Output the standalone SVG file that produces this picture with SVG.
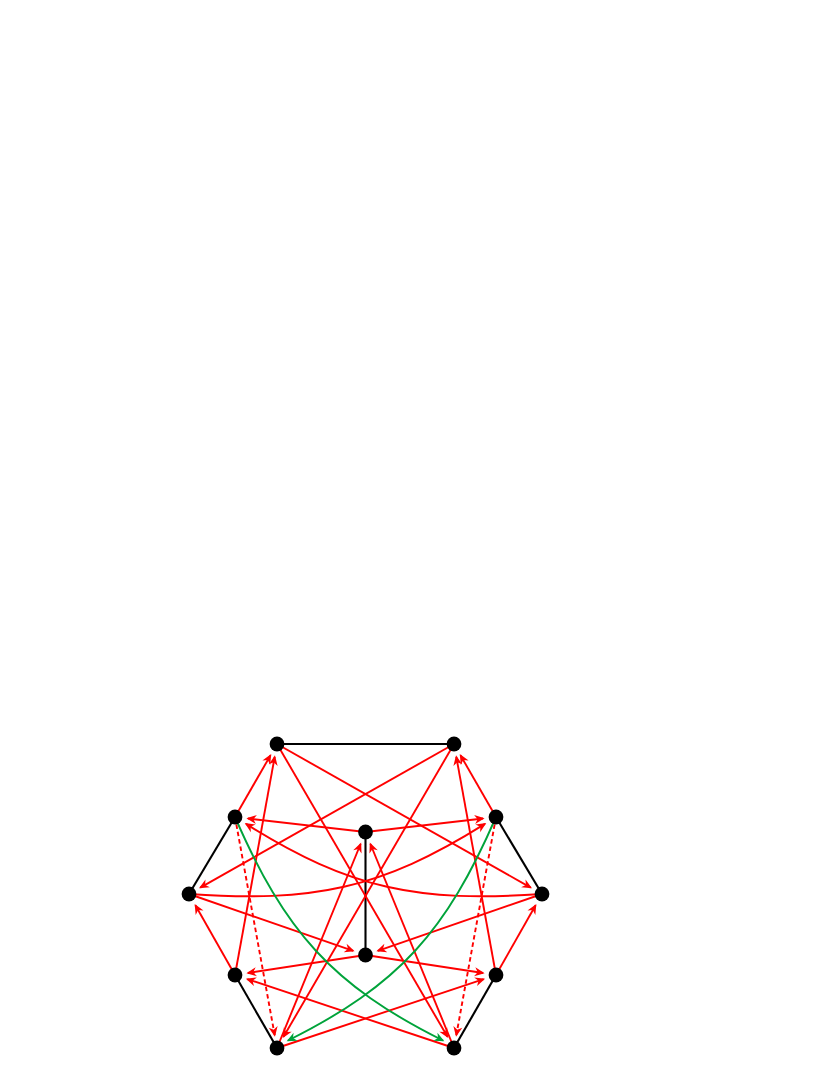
<svg xmlns="http://www.w3.org/2000/svg" width="830" height="1075" viewBox="0 0 830 1075">
<style>
.r{fill:none;stroke:#ff0000;stroke-width:1.9;marker-end:url(#ar)}
.d{stroke-dasharray:4.5 3}
.g{fill:none;stroke:#00a33a;stroke-width:1.9;marker-end:url(#ag)}
.k{fill:none;stroke:#000;stroke-width:2.1}
.n{fill:#000}
</style>
<defs>
<marker id="ar" viewBox="-11 -6 12 12" refX="-1.5" refY="0" markerWidth="12" markerHeight="12" markerUnits="userSpaceOnUse" orient="auto">
<path d="M0,0 L-10,-4.5 L-7,0 L-10,4.5 Z" fill="#ff0000"/>
</marker>
<marker id="ag" viewBox="-11 -6 12 12" refX="-1.5" refY="0" markerWidth="12" markerHeight="12" markerUnits="userSpaceOnUse" orient="auto">
<path d="M0,0 L-10,-4.5 L-7,0 L-10,4.5 Z" fill="#00a33a"/>
</marker>
</defs>
<rect width="830" height="1075" fill="#fff"/>
<g id="connectors">
<line class="k" x1="277" y1="744" x2="454" y2="744"/>
<line class="k" x1="235" y1="817" x2="189" y2="894"/>
<line class="k" x1="496" y1="817" x2="542" y2="894"/>
<line class="k" x1="235" y1="975" x2="277" y2="1048"/>
<line class="k" x1="496" y1="975" x2="454" y2="1048"/>
<line class="k" x1="365.5" y1="832" x2="365.5" y2="955"/>
<line class="r" x1="235" y1="817" x2="270.5" y2="755.3"/>
<line class="r" x1="235" y1="975" x2="274.7" y2="756.8"/>
<line class="r" x1="277" y1="744" x2="530.7" y2="887.6"/>
<line class="r" x1="277" y1="744" x2="447.5" y2="1036.8"/>
<line class="r" x1="454" y1="744" x2="200.3" y2="887.6"/>
<line class="r" x1="454" y1="744" x2="283.5" y2="1036.8"/>
<line class="r" x1="496" y1="817" x2="460.5" y2="755.3"/>
<line class="r" x1="496" y1="975" x2="456.3" y2="756.8"/>
<line class="r" x1="365.5" y1="832" x2="247.9" y2="818.5"/>
<line class="r" x1="365.5" y1="832" x2="483.1" y2="818.5"/>
<line class="r" x1="277" y1="1048" x2="360.6" y2="844"/>
<line class="r" x1="454" y1="1048" x2="370.4" y2="844"/>
<line class="r" x1="189" y1="894" x2="353.2" y2="950.8"/>
<line class="r" x1="542" y1="894" x2="377.8" y2="950.8"/>
<line class="r" x1="365.5" y1="955" x2="247.9" y2="973"/>
<line class="r" x1="365.5" y1="955" x2="483.1" y2="973"/>
<line class="r" x1="235" y1="975" x2="195.4" y2="905.3"/>
<line class="r" x1="496" y1="975" x2="535.6" y2="905.3"/>
<line class="r" x1="454" y1="1048" x2="247.3" y2="979.1"/>
<line class="r" x1="277" y1="1048" x2="483.7" y2="979.1"/>
<line class="r d" x1="235" y1="817" x2="274.7" y2="1035.2"/>
<line class="r d" x1="496" y1="817" x2="456.3" y2="1035.2"/>
<path class="r" d="M189,894 C312.6,902.4 380,889.7 485,823.9"/>
<path class="r" d="M542,894 C418.4,902.4 351,889.7 246,823.9"/>
<path class="g" d="M235,817 C284.7,931.2 331.6,985 443,1040.5"/>
<path class="g" d="M496,817 C446.3,931.2 399.4,985 288,1040.5"/>
</g>
<g id="nA"><circle class="n" cx="277" cy="744" r="7.4"/></g>
<g id="nB"><circle class="n" cx="454" cy="744" r="7.4"/></g>
<g id="nC"><circle class="n" cx="235" cy="817" r="7.4"/></g>
<g id="nD"><circle class="n" cx="496" cy="817" r="7.4"/></g>
<g id="nE"><circle class="n" cx="189" cy="894" r="7.4"/></g>
<g id="nF"><circle class="n" cx="542" cy="894" r="7.4"/></g>
<g id="nG"><circle class="n" cx="235" cy="975" r="7.4"/></g>
<g id="nH"><circle class="n" cx="496" cy="975" r="7.4"/></g>
<g id="nI"><circle class="n" cx="277" cy="1048" r="7.4"/></g>
<g id="nJ"><circle class="n" cx="454" cy="1048" r="7.4"/></g>
<g id="nK"><circle class="n" cx="365.5" cy="832" r="7.4"/></g>
<g id="nL"><circle class="n" cx="365.5" cy="955" r="7.4"/></g>
</svg>
